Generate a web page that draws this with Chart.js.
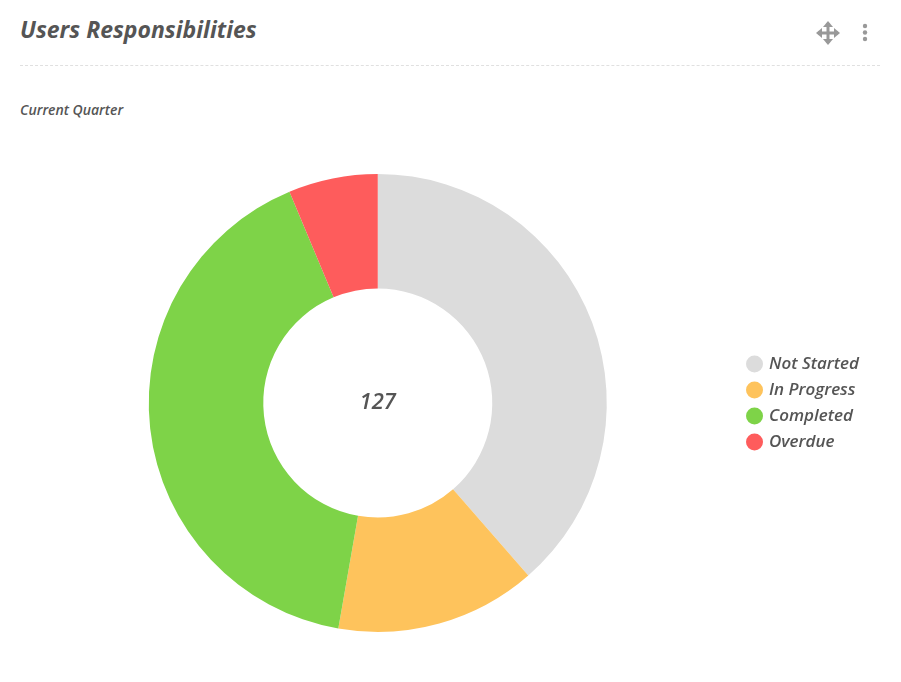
<!DOCTYPE html>
<html>
<head>
<meta charset="utf-8">
<script src="https://cdn.jsdelivr.net/npm/chart.js@4.4.1/dist/chart.umd.min.js"></script>
<style>
  html, body { margin: 0; padding: 0; background: #fff; }
  body { width: 901px; height: 682px; position: relative; overflow: hidden; font-family: "Open Sans", sans-serif; }
  .title { position: absolute; left: 20px; top: 13px; font-size: 23px; font-weight: 700; font-style: italic; color: #555; }
  .divider { position: absolute; left: 20px; top: 65px; width: 860px; border-top: 1px dashed #e0e0e0; }
  .subtitle { position: absolute; left: 20px; top: 100px; font-size: 14px; font-weight: 600; font-style: italic; color: #555; }
  .icons { position: absolute; top: 20px; left: 815px; }
  #chartBox { position: absolute; left: 16px; top: 141px; width: 885px; height: 524px; }
</style>
</head>
<body>
<div class="title">Users Responsibilities</div>
<div class="icons">
  <svg width="60" height="26" viewBox="0 0 60 26">
    <g fill="#999" stroke="#999">
      <line x1="13" y1="3" x2="13" y2="23" stroke-width="3"/>
      <line x1="3" y1="13" x2="23" y2="13" stroke-width="3"/>
      <polygon points="13,1 8,7 18,7" stroke="none"/>
      <polygon points="13,25 8,19 18,19" stroke="none"/>
      <polygon points="1,13 7,8 7,18" stroke="none"/>
      <polygon points="25,13 19,8 19,18" stroke="none"/>
      <circle cx="50" cy="6" r="2.2" stroke="none"/>
      <circle cx="50" cy="12.5" r="2.2" stroke="none"/>
      <circle cx="50" cy="19" r="2.2" stroke="none"/>
    </g>
  </svg>
</div>
<div class="divider"></div>
<div class="subtitle">Current Quarter</div>
<div id="chartBox"><canvas id="responsibilityChart"></canvas></div>
<script>
const statusLabels = ['Not Started', 'In Progress', 'Completed', 'Overdue'];
const statusCounts = [49, 18, 52, 8];
const statusColors = ['#dcdcdc', '#fec35c', '#7ed348', '#fe5c5c'];

const totalCount = statusCounts.reduce((acc, v) => acc + v, 0);

// writes the total in the middle of the ring
const centerTotal = {
    id: 'centerTotal',
    afterDraw(chart) {
        const meta = chart.getDatasetMeta(0);
        if (!meta.data.length) return;
        const { x, y } = meta.data[0];
        const ctx = chart.ctx;
        ctx.save();
        ctx.font = 'italic 600 22px "Open Sans"';
        ctx.fillStyle = '#555';
        ctx.textAlign = 'center';
        ctx.textBaseline = 'middle';
        ctx.fillText(String(totalCount), x, y);
        ctx.restore();
    }
};

const ctx = document.getElementById('responsibilityChart').getContext('2d');
new Chart(ctx, {
    type: 'doughnut',
    data: {
        labels: statusLabels,
        datasets: [{
            data: statusCounts,
            backgroundColor: statusColors,
            borderWidth: 0,
            hoverOffset: 0
        }]
    },
    options: {
        responsive: true,
        maintainAspectRatio: false,
        animation: false,
        cutout: '50%',
        layout: { padding: { top: 33, bottom: 33, left: 0, right: 32 } },
        plugins: {
            legend: {
                position: 'right',
                labels: {
                    usePointStyle: true,
                    pointStyle: 'circle',
                    boxWidth: 12,
                    boxHeight: 12,
                    padding: 9,
                    color: '#555',
                    font: { family: 'Open Sans', size: 17, style: 'italic', weight: '600' }
                }
            },
            tooltip: { enabled: false }
        }
    },
    plugins: [centerTotal]
});
</script>
</body>
</html>
